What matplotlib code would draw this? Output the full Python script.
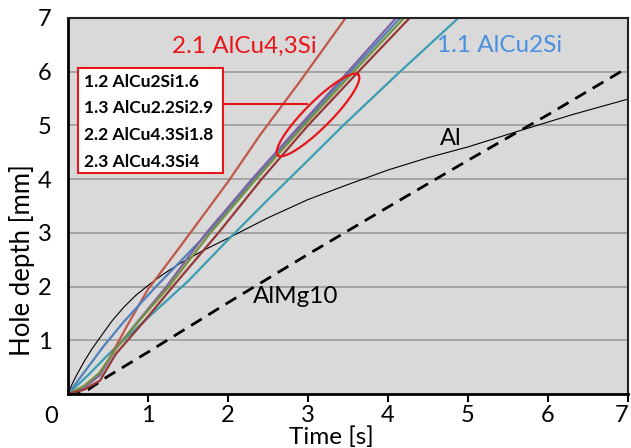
import numpy as np
import matplotlib
matplotlib.use("Agg")
import matplotlib.pyplot as plt
from matplotlib.patches import Rectangle

plt.rcParams['font.family'] = ['Lato', 'DejaVu Sans']

# --- data ---
al_t = [0, 0.05, 0.1, 0.2, 0.3, 0.4, 0.55, 0.7, 0.85, 1.0, 1.2, 1.4, 1.7, 2.0, 2.5, 3.0, 3.5,
        4.0, 4.5, 5.0, 5.6, 6.3, 7.0]
al_d = [0, 0.18, 0.33, 0.6, 0.84, 1.05, 1.36, 1.62, 1.84, 2.02, 2.24, 2.43, 2.68, 2.9, 3.28, 3.62, 3.9,
        4.17, 4.4, 4.6, 4.88, 5.2, 5.49]

almg_t = [0, 0.25, 0.5, 1, 2, 3, 4, 5, 6, 7]
almg_d = [0, 0.08, 0.33, 0.78, 1.7, 2.6, 3.48, 4.35, 5.2, 6.08]

cu2si_t = [0, 0.25, 0.5, 0.75, 1.0, 1.5, 2.0, 2.5, 3.0, 3.44, 4.15, 4.88]
cu2si_d = [0, 0.35, 0.73, 1.08, 1.42, 2.1, 2.87, 3.62, 4.35, 5.0, 6.0, 7.0]

cu43si_t = [0, 0.2, 0.35, 0.5, 0.75, 1.0, 1.4, 2.0, 2.4, 2.9, 3.47]
cu43si_d = [0, 0.12, 0.3, 0.62, 1.3, 1.95, 2.74, 3.95, 4.82, 5.82, 7.0]

s12_t = [0, 0.2, 0.44, 0.7, 1.1, 1.75, 2.32, 2.92, 3.53, 4.15]
s12_d = [0, 0.4, 0.88, 1.35, 2.0, 3.0, 4.0, 5.0, 6.0, 7.0]

s13_t = [0, 0.2, 0.4, 0.6, 0.9, 1.23, 1.73, 2.3, 2.9, 3.5, 4.1]
s13_d = [0, 0.12, 0.35, 0.85, 1.4, 2.0, 3.0, 4.0, 5.0, 6.0, 7.0]

s22_t = [0, 0.2, 0.4, 0.6, 0.9, 1.25, 1.78, 2.35, 2.95, 3.57, 4.2]
s22_d = [0, 0.15, 0.4, 0.85, 1.38, 1.98, 3.0, 4.0, 5.0, 6.0, 7.0]

s23_t = [0, 0.2, 0.4, 0.6, 0.95, 1.31, 1.88, 2.42, 3.0, 3.63, 4.27]
s23_d = [0, 0.08, 0.25, 0.75, 1.35, 2.0, 3.0, 4.0, 5.0, 6.0, 7.0]

ticks = [1, 2, 3, 4, 5, 6, 7]
box_labels = ["1.2 AlCu2Si1.6", "1.3 AlCu2.2Si2.9", "2.2 AlCu4.3Si1.8", "2.3 AlCu4.3Si4"]

fig = plt.figure(figsize=(6.31, 4.48), dpi=100)
ax = fig.add_axes([68 / 631, 54 / 448, 560 / 631, 376 / 448])
ax.set_facecolor('#d9d9d9')

ax.plot(al_t, al_d, color='black', lw=0.8)
ax.plot(almg_t, almg_d, color='black', lw=2.0, dashes=(4.5, 2.8))
ax.plot(cu2si_t, cu2si_d, color='#3b9db2', lw=1.6)
ax.plot(cu43si_t, cu43si_d, color='#c0584a', lw=1.6)
ax.plot(s12_t, s12_d, color='#4f81bd', lw=1.6)
ax.plot(s13_t, s13_d, color='#8064a2', lw=1.6)
ax.plot(s22_t, s22_d, color='#76923c', lw=1.6)
ax.plot(s23_t, s23_d, color='#953735', lw=1.6)

ax.set_xlim(0, 7)
ax.set_ylim(0, 7)
ax.set_xticks(ticks)
ax.set_yticks(ticks)
ax.tick_params(axis='x', direction='out', length=6, width=1.5, labelsize=17, pad=2)
ax.tick_params(axis='y', length=0, labelsize=17, pad=12)
# last x label sits on the figure edge; nudge it in so it stays whole
ax.get_xticklabels()[-1].set_horizontalalignment('right')
ax.yaxis.grid(True, color='#a0a0a0', lw=1.3)
ax.set_axisbelow(True)
for s in ['left', 'bottom']:
    ax.spines[s].set_linewidth(2)
for s in ['top', 'right']:
    ax.spines[s].set_linewidth(1.5)
    ax.spines[s].set_color('#222222')

fig.text(51 / 631, 1 - 416 / 448, "0", fontsize=17, ha='center', va='center')
fig.text(22 / 631, 1 - 260 / 448, "Hole depth [mm]", fontsize=18.5, rotation=90,
         ha='center', va='center')
fig.text(331 / 631, 0.5 / 448, "Time [s]", fontsize=17.5, ha='center', va='bottom')

# annotations
ax.text(2.21, 6.48, "2.1 AlCu4,3Si", color='#e8161b', fontsize=17.5, ha='center', va='center')
ax.text(5.4, 6.48, "1.1 AlCu2Si", color='#4a8fe0', fontsize=17.5, ha='center', va='center')
ax.text(4.79, 4.75, "Al", color='black', fontsize=17, ha='center', va='center')
ax.text(2.85, 1.82, "AlMg10", color='black', fontsize=17.5, ha='center', va='center')

ax.add_patch(Rectangle((0.125, 4.12), 1.815, 1.95, facecolor='white',
                       edgecolor='#e8161b', lw=1.5, zorder=5))
for lbl, yy in zip(box_labels, [5.81, 5.33, 4.82, 4.32]):
    ax.text(0.2, yy, lbl, fontsize=12.6, fontweight='bold', ha='left', va='center', zorder=6)
ax.plot([1.94, 2.99], [5.4, 5.4], color='#e8161b', lw=1.5, zorder=6)

t = np.linspace(0, 2 * np.pi, 200)
a, b, th = 57, 13, np.pi / 4
ex = 3.125 + (a * np.cos(t) * np.cos(th) - b * np.sin(t) * np.sin(th)) / 80
ey = 5.195 + (a * np.cos(t) * np.sin(th) + b * np.sin(t) * np.cos(th)) / 53.7
ax.plot(ex, ey, color='#e8161b', lw=1.6, zorder=6)

fig.savefig("out.png", dpi=100)
